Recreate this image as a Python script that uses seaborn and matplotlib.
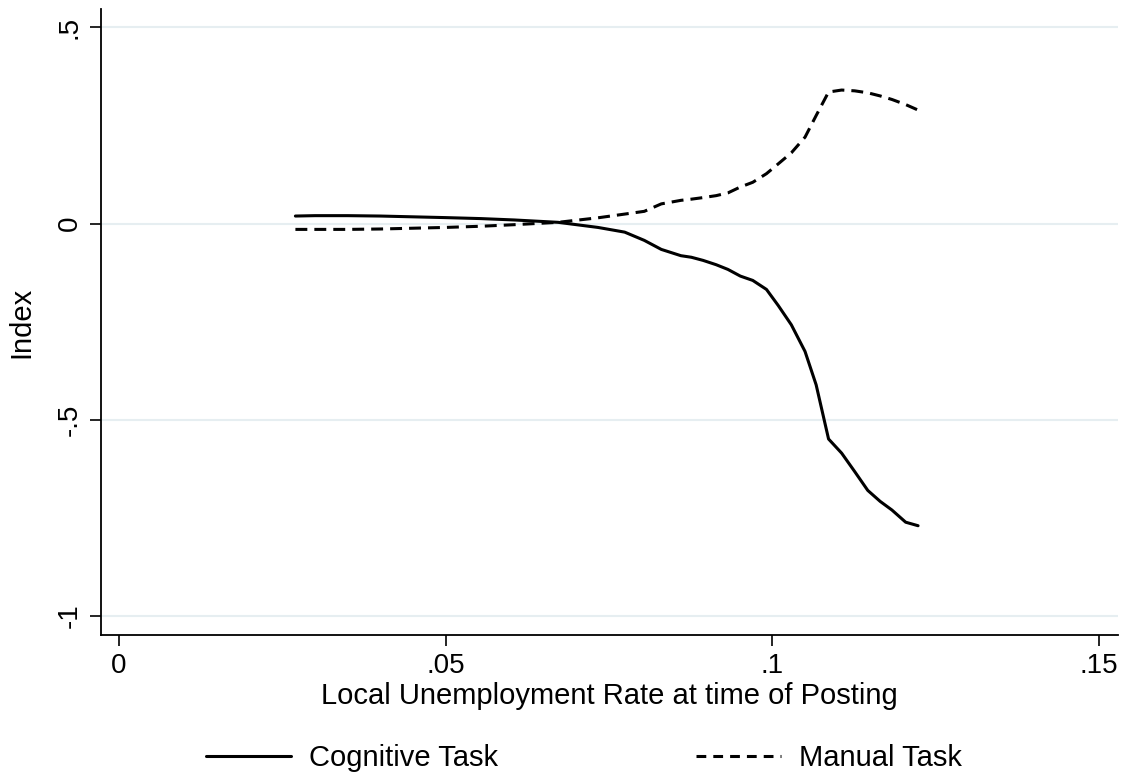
import matplotlib
matplotlib.use("Agg")
import matplotlib.pyplot as plt
import seaborn as sns
import pandas as pd
from matplotlib.lines import Line2D

# ---- data ----
unemp = [0.0270, 0.0300, 0.0350, 0.0400, 0.0450, 0.0500, 0.0554, 0.0605, 0.0672,
         0.0733, 0.0774, 0.0804, 0.0830, 0.0860, 0.0876, 0.0894, 0.0914, 0.0932,
         0.0951, 0.0970, 0.0991, 0.1009, 0.1029, 0.1050, 0.1067, 0.1086, 0.1106,
         0.1126, 0.1146, 0.1165, 0.1183, 0.1204, 0.1223]
cognitive = [0.019, 0.020, 0.020, 0.019, 0.017, 0.015, 0.0125, 0.009, 0.003,
             -0.010, -0.022, -0.043, -0.066, -0.082, -0.086, -0.094, -0.105, -0.117,
             -0.134, -0.145, -0.168, -0.209, -0.258, -0.326, -0.411, -0.549, -0.585,
             -0.632, -0.680, -0.708, -0.730, -0.761, -0.770]
manual = [-0.015, -0.015, -0.015, -0.014, -0.012, -0.010, -0.007, -0.003, 0.003,
          0.0145, 0.024, 0.031, 0.050, 0.059, 0.062, 0.066, 0.071, 0.078,
          0.093, 0.105, 0.127, 0.152, 0.180, 0.220, 0.275, 0.335, 0.340,
          0.338, 0.333, 0.325, 0.316, 0.303, 0.289]
series_names = ["Cognitive Task", "Manual Task"]
x_ticks = [0, 0.05, 0.10, 0.15]
x_tick_labels = ["0", ".05", ".1", ".15"]
y_ticks = [-1, -0.5, 0, 0.5]
y_tick_labels = ["-1", "-.5", "0", ".5"]
x_title = "Local Unemployment Rate at time of Posting"
y_title = "Index"

df = pd.DataFrame({
    "x": unemp * 2,
    "y": cognitive + manual,
    "series": [series_names[0]] * len(unemp) + [series_names[1]] * len(unemp),
})

sns.set_style("white")
plt.rcParams["font.family"] = ["Liberation Sans", "DejaVu Sans"]
plt.rcParams["text.color"] = "black"
plt.rcParams["axes.labelcolor"] = "black"
plt.rcParams["xtick.color"] = "black"
plt.rcParams["ytick.color"] = "black"
FS_TICK = 20
FS = 21
LW = 2.2

fig = plt.figure(figsize=(11.25, 7.77), dpi=100)
ax = fig.add_axes([100.7 / 1125, 1 - 635 / 777, (1118 - 100.7) / 1125, (635 - 9) / 777])

sns.lineplot(data=df, x="x", y="y", style="series",
             dashes={series_names[0]: "", series_names[1]: (3.9, 2.3)},
             color="black", linewidth=LW, sort=False, legend=False, ax=ax)

ax.set_xlim(-0.0028, 0.1529)
ax.set_ylim(-1.0484, 0.5465)
ax.set_xticks(x_ticks)
ax.set_xticklabels(x_tick_labels, fontsize=FS_TICK)
ax.set_yticks(y_ticks)
ax.set_yticklabels(y_tick_labels, fontsize=FS_TICK, rotation=90, va="center")
ax.tick_params(axis="both", direction="out", length=8, width=1.2, color="black",
               labelcolor="black", left=True, bottom=True, pad=5)
ax.yaxis.grid(True, color="#e6eef1", linewidth=1.5)
ax.xaxis.grid(False)
ax.set_axisbelow(True)
for s in ["top", "right"]:
    ax.spines[s].set_visible(False)
for s in ["left", "bottom"]:
    ax.spines[s].set_color("black")
    ax.spines[s].set_linewidth(1.3)

ax.set_xlabel(x_title, fontsize=FS, labelpad=2, color="black")
ax.set_ylabel(y_title, fontsize=FS, labelpad=15, color="black")

handles = [Line2D([0], [0], color="black", lw=LW, linestyle="-"),
           Line2D([0], [0], color="black", lw=LW, linestyle=(0, (3.2, 2.3)))]
fig.legend(handles, series_names, loc="center", ncol=2, frameon=False,
           fontsize=FS, handlelength=2.9, handletextpad=0.62, columnspacing=6.8,
           labelcolor="black", bbox_to_anchor=(584 / 1125, 1 - 758 / 777))

fig.savefig("out.png", dpi=100, facecolor="white")
